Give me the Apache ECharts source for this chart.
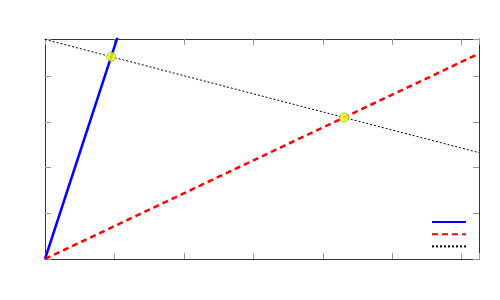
<!DOCTYPE html>
<html><head><meta charset="utf-8">
<script src="https://cdn.jsdelivr.net/npm/echarts@6/dist/echarts.min.js"></script>
<style>html,body{margin:0;padding:0;background:#fff}#c{width:500px;height:300px}</style>
</head><body><div id="c"></div>
<script>
const blueLine = [[0, 0], [1.1, 5.115]];
const redLine = [[0, 0], [6.25, 4.5]];
const blackLine = [[0, 4.81], [6.25, 2.33]];
const crossPoints = [[0.953, 4.43], [4.31, 3.10]];
const seriesNames = ['s1', 's2', 's3'];

const chart = echarts.init(document.getElementById('c'), null, {renderer: 'canvas'});
const axisCommon = (pos) => ({
  type: 'value', position: pos, min: 0, interval: 1,
  axisLine: {show: true, onZero: false, lineStyle: {color: '#333', width: 1}},
  axisTick: {show: true, inside: true, length: 6, lineStyle: {color: '#999', width: 1}},
  axisLabel: {show: false},
  splitLine: {show: false}
});
chart.setOption({
  animation: false,
  backgroundColor: '#fff',
  grid: {left: 45, right: 21, top: 39, bottom: 41},
  xAxis: [Object.assign(axisCommon('bottom'), {max: 6.25}), Object.assign(axisCommon('top'), {max: 6.25})],
  yAxis: [Object.assign(axisCommon('left'), {max: 4.82}), Object.assign(axisCommon('right'), {max: 4.82})],
  legend: {
    data: seriesNames, orient: 'vertical', left: 426, top: 213,
    itemWidth: 34, itemHeight: 8, itemGap: 5,
    itemStyle: {color: 'transparent', borderWidth: 0, opacity: 0},
    formatter: () => '', textStyle: {fontSize: 1}
  },
  series: [
    {name: seriesNames[0], type: 'line', data: blueLine, symbol: 'none', clip: true,
     lineStyle: {color: '#0000ff', width: 2.5}, itemStyle: {color: '#0000ff'}},
    {name: seriesNames[1], type: 'line', data: redLine, symbol: 'none', clip: true,
     lineStyle: {color: '#ff0000', width: 2.5, type: [6, 4]}, itemStyle: {color: '#ff0000'}},
    {name: seriesNames[2], type: 'line', data: blackLine, symbol: 'none', clip: true,
     lineStyle: {color: '#000', width: 1, type: [2, 2]}, itemStyle: {color: '#000'}},
    {name: 'pts', type: 'scatter', data: crossPoints, symbol: 'circle', symbolSize: 9, z: 5,
     itemStyle: {color: '#ffff00', borderColor: '#66cc33', borderWidth: 1}}
  ]
});
</script></body></html>
